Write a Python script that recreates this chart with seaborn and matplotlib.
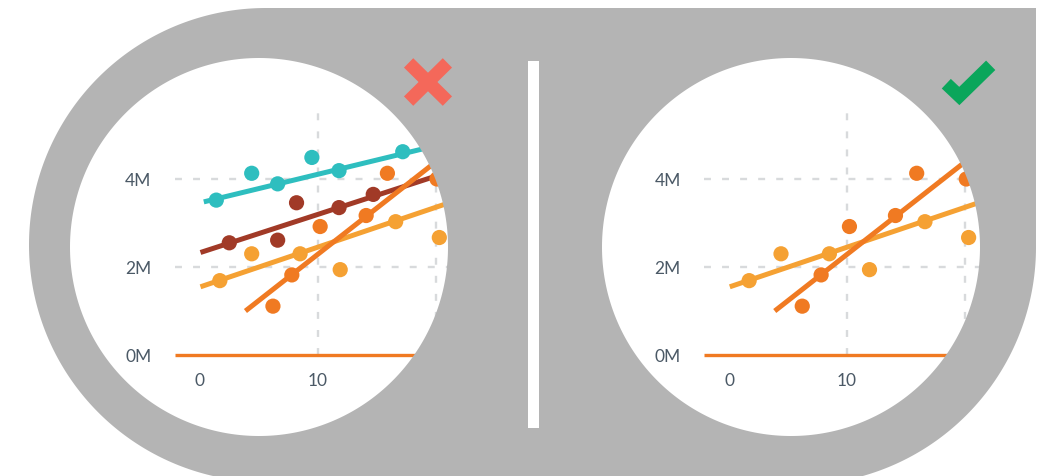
import numpy as np
import pandas as pd
import matplotlib
matplotlib.use('Agg')
import matplotlib.pyplot as plt
import seaborn as sns
from matplotlib.path import Path
from matplotlib.patches import PathPatch, Rectangle
from matplotlib.ticker import FuncFormatter

# --- data (y values in millions) ---
series_names = ['teal', 'brown', 'light', 'dark']
series_colors = ['#2EBEBF', '#A13A27', '#F5A133', '#F07A22']

teal_x = [1.4, 4.4, 6.6, 9.5, 11.8, 17.2]
teal_y = [3.52, 4.13, 3.89, 4.49, 4.19, 4.62]
brown_x = [2.5, 6.6, 8.2, 11.8, 14.7]
brown_y = [2.55, 2.61, 3.46, 3.35, 3.65]
light_x = [1.7, 4.4, 8.5, 11.9, 16.6, 20.3]
light_y = [1.69, 2.30, 2.30, 1.94, 3.03, 2.67]
dark_x = [6.2, 7.8, 10.2, 14.1, 15.9, 20.1]
dark_y = [1.11, 1.82, 2.92, 3.17, 4.13, 4.00]

# trend line end points
teal_trend_x = [0.34, 25]
teal_trend_y = [3.48, 5.08]
brown_trend_x = [0.06, 25]
brown_trend_y = [2.33, 4.50]
light_trend_x = [0.06, 25]
light_trend_y = [1.55, 3.81]
dark_trend_x = [3.87, 25]
dark_trend_y = [1.00, 5.44]

x_ticks = [0, 10, 20]
y_ticks = [0, 2, 4]

# panels: left shows all four series, right only the two orange ones
left_series = ['teal', 'brown', 'light', 'dark']
right_series = ['light', 'dark']

points = pd.concat([
    pd.DataFrame({'x': teal_x, 'y': teal_y, 'series': 'teal'}),
    pd.DataFrame({'x': brown_x, 'y': brown_y, 'series': 'brown'}),
    pd.DataFrame({'x': light_x, 'y': light_y, 'series': 'light'}),
    pd.DataFrame({'x': dark_x, 'y': dark_y, 'series': 'dark'}),
], ignore_index=True)
trends = pd.concat([
    pd.DataFrame({'x': teal_trend_x, 'y': teal_trend_y, 'series': 'teal'}),
    pd.DataFrame({'x': brown_trend_x, 'y': brown_trend_y, 'series': 'brown'}),
    pd.DataFrame({'x': light_trend_x, 'y': light_trend_y, 'series': 'light'}),
    pd.DataFrame({'x': dark_trend_x, 'y': dark_trend_y, 'series': 'dark'}),
], ignore_index=True)
palette = dict(zip(series_names, series_colors))

sns.set_style('white')
plt.rcParams['font.family'] = ['Lato', 'DejaVu Sans']
plt.rcParams['lines.solid_capstyle'] = 'butt'
plt.rcParams['lines.scale_dashes'] = False

W, H = 1059, 477
GRAY = '#B4B4B4'
TEXT = '#4B5966'
fig = plt.figure(figsize=(W / 100, H / 100), dpi=100)
fig.patch.set_facecolor('white')

XLIM = (-2.1, 22)
YLIM = (0, 5.66)
PX_PER_X = 11.8
PX_PER_Y = 44


def draw_panel(left_px, names):
    # axes placed in pixel space
    w = (XLIM[1] - XLIM[0]) * PX_PER_X
    h = (YLIM[1] - YLIM[0]) * PX_PER_Y
    ax = fig.add_axes([left_px / W, (H - 356) / H, w / W, h / H])
    sub_p = points[points['series'].isin(names)]
    sub_t = trends[trends['series'].isin(names)]
    order = [n for n in series_names if n in names]
    sns.lineplot(data=sub_t, x='x', y='y', hue='series', hue_order=order,
                 palette=palette, linewidth=3.6, legend=False, ax=ax,
                 estimator=None, zorder=3)
    sns.scatterplot(data=sub_p, x='x', y='y', hue='series', hue_order=order,
                    palette=palette, s=120, linewidth=0, legend=False, ax=ax,
                    zorder=4)
    ax.axhline(0, color='#F07A22', linewidth=2.4, clip_on=False, zorder=2)
    ax.set_xlim(*XLIM)
    ax.set_ylim(*YLIM)
    ax.set_xticks(x_ticks)
    ax.set_yticks(y_ticks)
    ax.yaxis.set_major_formatter(FuncFormatter(lambda v, p: f'{v:.0f}M'))
    ax.grid(True, color='#D8DADC', linewidth=1.7, linestyle=(0, (5, 8)))
    ax.xaxis.get_gridlines()[0].set_visible(False)
    ax.yaxis.get_gridlines()[0].set_visible(False)
    ax.tick_params(length=0, labelsize=12.5, labelcolor=TEXT)
    ax.tick_params(axis='y', pad=17)
    ax.tick_params(axis='x', pad=12)
    ax.set_xlabel('')
    ax.set_ylabel('')
    for s in ax.spines.values():
        s.set_visible(False)
    ax.set_facecolor('white')
    return ax


draw_panel(175, left_series)
draw_panel(704.3, right_series)

# --- gray frame with two round windows ---
ov = fig.add_axes([0, 0, 1, 1], zorder=10)
ov.set_xlim(0, W)
ov.set_ylim(H, 0)
ov.axis('off')
ov.patch.set_visible(False)


def arc(cx, cy, r, t0, t1, n=200):
    t = np.radians(np.linspace(t0, t1, n))
    return np.column_stack([cx + r * np.cos(t), cy + r * np.sin(t)])


def signed_area(p):
    x, y = p[:, 0], p[:, 1]
    return 0.5 * np.sum(x * np.roll(y, -1) - np.roll(x, -1) * y)


outer = np.vstack([
    arc(266, 246, 237, 270, 90),
    arc(798, 248, 238, 90, 0),
    [[1036, 9]],
])
holes = [arc(259, 248, 189, 0, 360, 400)[:-1], arc(791, 248, 189, 0, 360, 400)[:-1]]

verts, codes = [], []
for i, poly in enumerate([outer] + holes):
    if i > 0 and np.sign(signed_area(poly)) == np.sign(signed_area(outer)):
        poly = poly[::-1]
    verts.extend(poly.tolist())
    verts.append(poly[0].tolist())
    codes.extend([Path.MOVETO] + [Path.LINETO] * (len(poly) - 1) + [Path.CLOSEPOLY])
ov.add_patch(PathPatch(Path(verts, codes), facecolor=GRAY, edgecolor='none'))

# divider
ov.add_patch(Rectangle((528.3, 62), 10.7, 367, facecolor='white', edgecolor='none'))

# red cross
ov.plot([408.6, 447.4], [63.9, 102.1], color='#F4685A', linewidth=9.5)
ov.plot([408.6, 447.4], [102.1, 63.9], color='#F4685A', linewidth=9.5)

# green check
ov.plot([946.3, 959.3, 990.7], [84.7, 97.0, 66.3], color='#0AA65B',
        linewidth=9.5, solid_joinstyle='miter')

fig.savefig('out.png', dpi=100)
